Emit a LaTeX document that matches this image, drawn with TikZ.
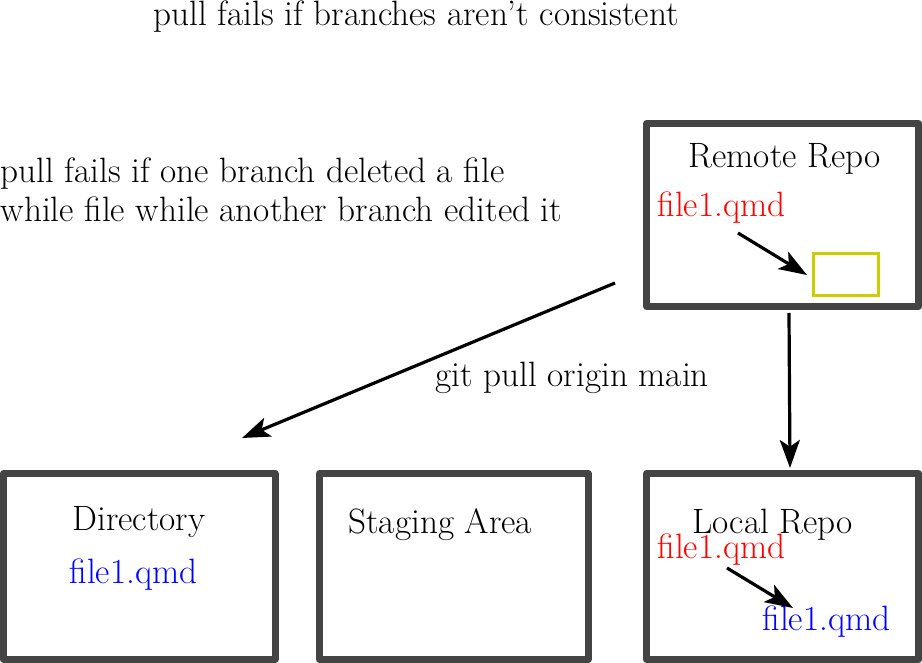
\documentclass[tikz,border=0pt]{standalone}
\usetikzlibrary{arrows.meta}

\tikzset{every picture/.style={line width=0.75pt}}
\definecolor{boxgray}{RGB}{68,68,68}
\definecolor{olive}{RGB}{204,204,0}
\definecolor{fileblue}{RGB}{0,0,255}
\definecolor{filered}{RGB}{255,0,0}

\begin{document}
\begin{tikzpicture}[x=0.75pt,y=0.75pt,yscale=-1,xscale=1,
  repobox/.style={draw=boxgray,line width=5.25pt,line join=round},
  txt/.style={anchor=base west,inner sep=0pt,font=\fontsize{26.4}{29.25}\selectfont},
  pullarrow/.style={-{Stealth[length=21pt,width=15pt,inset=5pt]},line width=2.4pt}]
\useasboundingbox (0,0) rectangle (922,663);

%Shape: Rectangle [remote]
\draw [repobox] (646.5,123.5) -- (918.5,123.5) -- (918.5,306.5) -- (646.5,306.5) -- cycle ;
%Shape: Rectangle [directory]
\draw [repobox] (3.5,473.5) -- (275,473.5) -- (275,659.5) -- (3.5,659.5) -- cycle ;
%Shape: Rectangle [staging]
\draw [repobox] (319.5,473.5) -- (588,473.5) -- (588,659.5) -- (319.5,659.5) -- cycle ;
%Shape: Rectangle [local]
\draw [repobox] (646.5,473.5) -- (918.5,473.5) -- (918.5,659.5) -- (646.5,659.5) -- cycle ;
%Shape: Rectangle [changed file]
\draw [draw=olive,line width=2.4pt] (813.5,253.5) -- (878.5,253.5) -- (878.5,295.5) -- (813.5,295.5) -- cycle ;

% Text Node
\draw (153,26) node [txt] (consistent) {pull fails if branches aren't consistent};
% Text Node
\draw (0,222) node [txt,align=left] (deleted) {pull fails if one branch deleted a file\\while file while another branch edited it};
% Text Node
\draw (688,168) node [txt] (remotelbl) {Remote Repo};
% Text Node
\draw (657,217) node [txt,text=filered] (remotefile) {file1.qmd};
% Text Node
\draw (435,387) node [txt] (pullcmd) {git pull origin main};
% Text Node
\draw (72,530) node [txt] (dirlbl) {Directory};
% Text Node
\draw (69,583) node [txt,text=fileblue] (dirfile) {file1.qmd};
% Text Node
\draw (348,533) node [txt] (stagelbl) {Staging Area};
% Text Node
\draw (692,533) node [txt] (locallbl) {Local Repo};
% Text Node
\draw (657,558) node [txt,text=filered] (localold) {file1.qmd};
% Text Node
\draw (762,630) node [txt,text=fileblue] (localnew) {file1.qmd};

% arrow ends
\coordinate (remoteout) at (615,283);
\coordinate (dirin) at (242,438);
\coordinate (remotedown) at (789,313);
\coordinate (localin) at (790,468);
\coordinate (editfrom) at (738,233);
\coordinate (editto) at (807,275);
\coordinate (mergefrom) at (727,568);
\coordinate (mergeto) at (793,608);

\draw [pullarrow] (remoteout) -- (dirin) ;
\draw [pullarrow] (remotedown) -- (localin) ;
\draw [pullarrow] (editfrom) -- (editto) ;
\draw [pullarrow] (mergefrom) -- (mergeto) ;

\end{tikzpicture}
\end{document}
